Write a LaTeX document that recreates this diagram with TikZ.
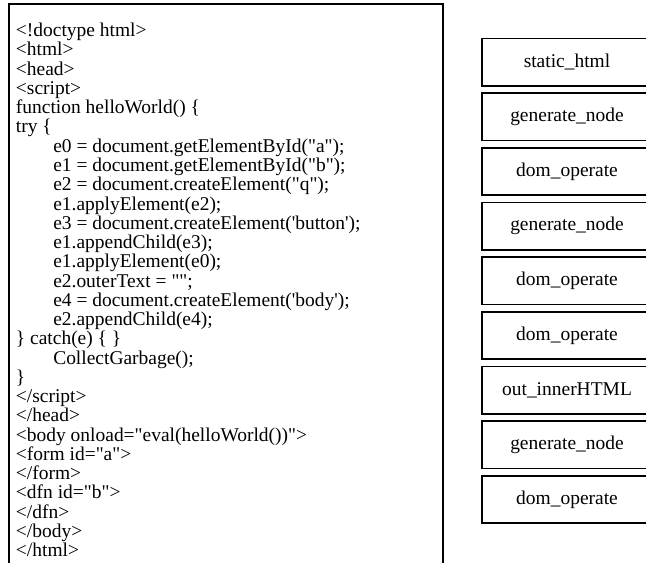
\documentclass[tikz,border=0pt]{standalone}
\usepackage{fontspec}
\setmainfont{Liberation Serif}
\newcommand\dq{\textquotedbl}
\newcommand\sq{\textquotesingle}
\begin{document}
\begin{tikzpicture}[x=0.75pt,y=-0.75pt,
  codeline/.style={anchor=base west,inner sep=0pt,font=\fontsize{14.6pt}{14.6pt}\selectfont},
  stepbox/.style={draw,line width=1.2pt,minimum width=127.5pt,minimum height=35.6pt,inner sep=0pt,font=\fontsize{14.6pt}{14.6pt}\selectfont},
  frameline/.style={line width=1.3pt}]
\useasboundingbox (0,0) rectangle (646,563);
\begin{scope}
\clip (0,0) rectangle (646,563);
% code frame
\draw[frameline] (9,580) -- (9,4) -- (443,4) -- (443,580);
% code lines
\def\lx{15.7}
\def\ix{53}
\node[codeline] (l1)  at (\lx,{36.7+0*19.26}) {<!doctype html>};
\node[codeline] (l2)  at (\lx,{36.7+1*19.26}) {<html>};
\node[codeline] (l3)  at (\lx,{36.7+2*19.26}) {<head>};
\node[codeline] (l4)  at (\lx,{36.7+3*19.26}) {<script>};
\node[codeline] (l5)  at (\lx,{36.7+4*19.26}) {function helloWorld() \{};
\node[codeline] (l6)  at (\lx,{36.7+5*19.26}) {try \{};
\node[codeline] (l7)  at (\ix,{36.7+6*19.26}) {e0 = document.getElementById(\dq a\dq);};
\node[codeline] (l8)  at (\ix,{36.7+7*19.26}) {e1 = document.getElementById(\dq b\dq);};
\node[codeline] (l9)  at (\ix,{36.7+8*19.26}) {e2 = document.createElement(\dq q\dq);};
\node[codeline] (l10) at (\ix,{36.7+9*19.26}) {e1.applyElement(e2);};
\node[codeline] (l11) at (\ix,{36.7+10*19.26}) {e3 = document.createElement(\sq button\sq);};
\node[codeline] (l12) at (\ix,{36.7+11*19.26}) {e1.appendChild(e3);};
\node[codeline] (l13) at (\ix,{36.7+12*19.26}) {e1.applyElement(e0);};
\node[codeline] (l14) at (\ix,{36.7+13*19.26}) {e2.outerText = \dq\dq;};
\node[codeline] (l15) at (\ix,{36.7+14*19.26}) {e4 = document.createElement(\sq body\sq);};
\node[codeline] (l16) at (\ix,{36.7+15*19.26}) {e2.appendChild(e4);};
\node[codeline] (l17) at (\lx,{36.7+16*19.26}) {\} catch(e) \{ \}};
\node[codeline] (l18) at (\ix,{36.7+17*19.26}) {CollectGarbage();};
\node[codeline] (l19) at (\lx,{36.7+18*19.26}) {\}};
\node[codeline] (l20) at (\lx,{36.7+19*19.26}) {</script>};
\node[codeline] (l21) at (\lx,{36.7+20*19.26}) {</head>};
\node[codeline] (l22) at (\lx,{36.7+21*19.26}) {<body onload=\dq eval(helloWorld())\dq>};
\node[codeline] (l23) at (\lx,{36.7+22*19.26}) {<form id=\dq a\dq>};
\node[codeline] (l24) at (\lx,{36.7+23*19.26}) {</form>};
\node[codeline] (l25) at (\lx,{36.7+24*19.26}) {<dfn id=\dq b\dq>};
\node[codeline] (l26) at (\lx,{36.7+25*19.26}) {</dfn>};
\node[codeline] (l27) at (\lx,{36.7+26*19.26}) {</body>};
\node[codeline] (l28) at (\lx,{36.7+27*19.26}) {</html>};
% step boxes
\node[stepbox] (b1) at (567,{62.1+0*54.68}) {static\_html};
\node[stepbox] (b2) at (567,{62.1+1*54.68}) {generate\_node};
\node[stepbox] (b3) at (567,{62.1+2*54.68}) {dom\_operate};
\node[stepbox] (b4) at (567,{62.1+3*54.68}) {generate\_node};
\node[stepbox] (b5) at (567,{62.1+4*54.68}) {dom\_operate};
\node[stepbox] (b6) at (567,{62.1+5*54.68}) {dom\_operate};
\node[stepbox] (b7) at (567,{62.1+6*54.68}) {out\_innerHTML};
\node[stepbox] (b8) at (567,{62.1+7*54.68}) {generate\_node};
\node[stepbox] (b9) at (567,{62.1+8*54.68}) {dom\_operate};
\end{scope}
\end{tikzpicture}
\end{document}
